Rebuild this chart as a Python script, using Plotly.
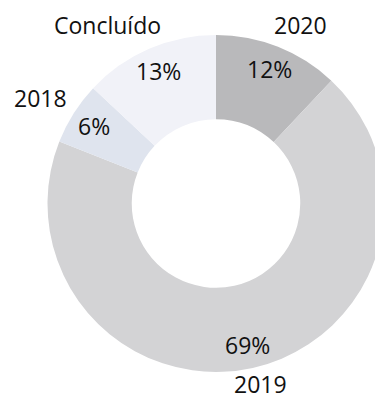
import math
import plotly.graph_objects as go

# Share of projects by year of completion
labels = ["2020", "2019", "2018", "Concluído"]
values = [12, 69, 6, 13]
colors = ["#b9b9bb", "#d3d3d5", "#dfe4ee", "#f1f2f8"]

# Canvas geometry (pixels); the ring is wider than the visible page on the right
W, H = 432, 400
ML, MR, MT, MB = 47, 47, 35, 28
R = min(W - ML - MR, H - MT - MB) / 2
CX, CY = ML + (W - ML - MR) / 2, MT + (H - MT - MB) / 2

FONT = "Open Sans"
FS = 23


def to_paper(px, py):
    return (px - ML) / (W - ML - MR), 1 - (py - MT) / (H - MT - MB)


def slice_point(mid_deg, radius):
    a = math.radians(mid_deg)
    return CX + radius * math.sin(a), CY - radius * math.cos(a)


fig = go.Figure(
    go.Pie(
        labels=labels,
        values=values,
        hole=0.5,
        sort=False,
        direction="clockwise",
        rotation=0,
        marker=dict(colors=colors, line=dict(width=0)),
        textinfo="none",
        hoverinfo="label+percent",
        showlegend=False,
        domain=dict(x=[0, 1], y=[0, 1]),
    )
)

# nudges (pixels) that keep the outer category names clear of each other
# and inside the page
name_nudge = {
    "2020": (13, 3),
    "2019": (2, -10),
    "2018": (-10, -1),
    "Concluído": (-31, 1),
}

total = sum(values)
start = 0.0
annotations = []
for lab, v in zip(labels, values):
    span = 360 * v / total
    mid = start + span / 2
    start += span
    pct = round(100 * v / total)
    # percentage inside the ring
    px, py = slice_point(mid, 0.86 * R)
    x, y = to_paper(px, py)
    annotations.append(dict(x=x, y=y, xref="paper", yref="paper", text=f"{pct}%",
                            xanchor="center", yanchor="middle", showarrow=False,
                            borderpad=0,
                            font=dict(family=FONT, size=FS, color="#111111")))
    # category name outside the ring
    px, py = slice_point(mid, 1.16 * R)
    dx, dy = name_nudge.get(lab, (0, 0))
    x, y = to_paper(px + dx, py + dy)
    annotations.append(dict(x=x, y=y, xref="paper", yref="paper", text=lab,
                            xanchor="center", yanchor="middle", showarrow=False,
                            borderpad=0,
                            font=dict(family=FONT, size=FS, color="#111111")))

fig.update_layout(
    width=W,
    height=H,
    autosize=False,
    margin=dict(l=ML, r=MR, t=MT, b=MB),
    paper_bgcolor="white",
    plot_bgcolor="white",
    annotations=annotations,
)

fig.write_html(
    "out.html",
    post_script="document.body.style.overflow='hidden';document.documentElement.style.overflow='hidden';",
)
